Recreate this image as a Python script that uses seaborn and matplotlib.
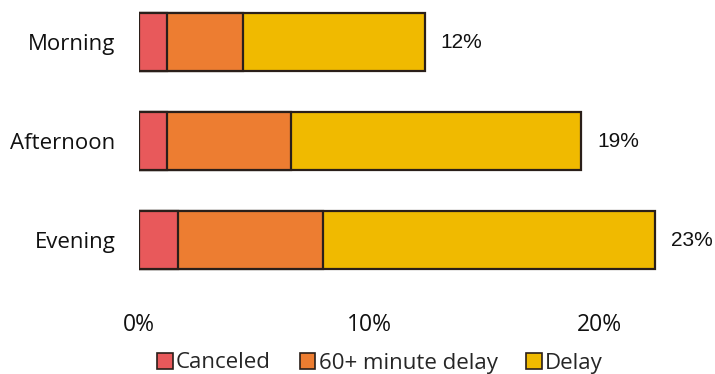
import pandas as pd
import matplotlib.pyplot as plt
import seaborn as sns
from matplotlib.patches import Patch

periods = ["Morning", "Afternoon", "Evening"]
canceled = [1.2, 1.2, 1.7]
delay_60 = [3.3, 5.4, 6.3]
delay = [7.9, 12.6, 14.4]
total_labels = ["12%", "19%", "23%"]

series_names = ["Canceled", "60+ minute delay", "Delay"]
colors = ["#E8595B", "#ED7D31", "#F0BA00"]
edge = "#2a1f1a"


def main():
    sns.set_style("white")
    plt.rcParams["font.family"] = ["Open Sans", "DejaVu Sans"]

    df = pd.DataFrame({"period": periods, "Canceled": canceled,
                       "60+ minute delay": delay_60, "Delay": delay})
    # cumulative ends for the stacked look
    df["c1"] = df["Canceled"]
    df["c2"] = df["c1"] + df["60+ minute delay"]
    df["c3"] = df["c2"] + df["Delay"]

    fig = plt.figure(figsize=(7.15, 3.74), dpi=100)
    ax = fig.add_axes([139 / 715, 0.173, 576 / 715, 0.807])

    for col, color in zip(["c3", "c2", "c1"], colors[::-1]):
        sns.barplot(data=df, x=col, y="period", orient="h", color=color,
                    width=0.58, edgecolor=edge, linewidth=1.6, ax=ax,
                    saturation=1)

    for i, lab in enumerate(total_labels):
        ax.text(df["c3"][i] + 0.68, i, lab, va="center", ha="left",
                fontsize=15, family="Liberation Sans", color="#111111")

    ax.set_xlim(0, 25)
    ax.set_ylim(2.7, -0.35)
    ax.set_xticks([0, 10, 20])
    ax.set_xticklabels(["0%", "10%", "20%"])
    ax.set_xlabel("")
    ax.set_ylabel("")
    ax.tick_params(axis="both", length=0, colors="#111111")
    ax.tick_params(axis="x", pad=3, labelsize=16.5)
    ax.tick_params(axis="y", pad=17, labelsize=16)
    sns.despine(ax=ax, left=True, bottom=True)

    handles = [Patch(facecolor=c, edgecolor=edge, linewidth=1.2, label=n)
               for c, n in zip(colors, series_names)]
    fig.legend(handles=handles, loc="center", bbox_to_anchor=(380 / 715, 1 - 363 / 374),
               ncol=3, frameon=False, fontsize=16, handlelength=0.7,
               handleheight=0.7, handletextpad=0.15, columnspacing=1.3)

    fig.savefig("out.png", dpi=100)
    plt.close(fig)


if __name__ == "__main__":
    main()
